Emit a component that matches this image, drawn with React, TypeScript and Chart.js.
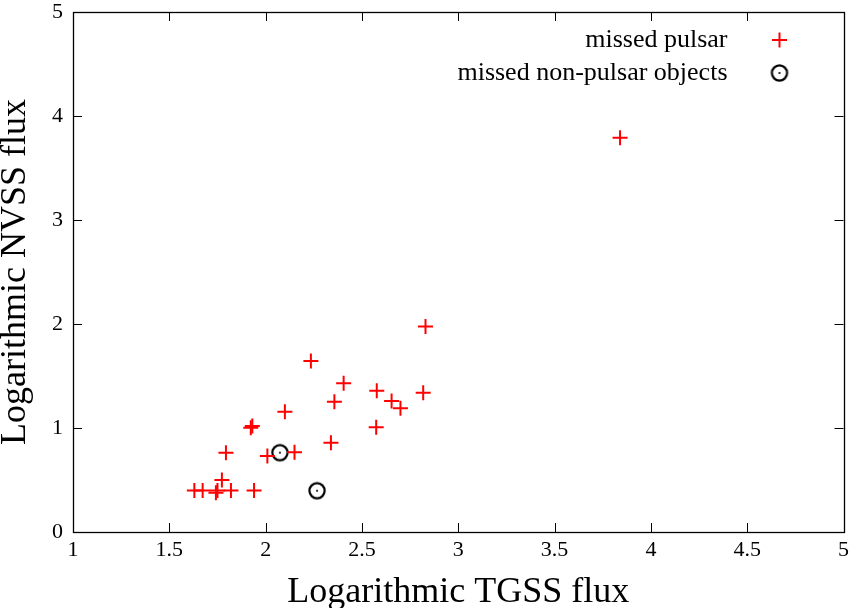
import React, { useEffect, useRef } from 'react';
import { Chart, registerables } from 'chart.js';

Chart.register(...registerables);

const pulsarX = [3.84, 2.83, 2.235, 2.405, 2.577, 2.818, 2.357, 2.654, 2.70, 2.10, 1.931, 1.923, 2.574, 2.339, 1.794, 2.009, 2.150, 1.773, 1.630, 1.673, 1.742, 1.75, 1.820, 1.940];
const pulsarY = [3.79, 1.977, 1.644, 1.43, 1.359, 1.34, 1.253, 1.26, 1.19, 1.157, 1.019, 1.003, 1.007, 0.859, 0.763, 0.731, 0.766, 0.50, 0.40, 0.40, 0.378, 0.40, 0.40, 0.40];
const otherX = [2.074, 2.267];
const otherY = [0.763, 0.397];
const xTicks = [1, 1.5, 2, 2.5, 3, 3.5, 4, 4.5, 5];
const yTicks = [0, 1, 2, 3, 4, 5];
const seriesLabels = ['missed pulsar', 'missed non-pulsar objects'];
const xTitle = 'Logarithmic TGSS flux';
const yTitle = 'Logarithmic NVSS flux';

const SERIF = "'Liberation Serif', 'Times New Roman', serif";

function makeCircleDot(): HTMLCanvasElement {
  const c = document.createElement('canvas');
  c.width = 20;
  c.height = 20;
  const g = c.getContext('2d')!;
  g.strokeStyle = '#000';
  g.lineWidth = 2.2;
  g.beginPath();
  g.arc(10, 10, 7.6, 0, Math.PI * 2);
  g.stroke();
  g.fillStyle = '#000';
  g.beginPath();
  g.arc(10, 10, 1.1, 0, Math.PI * 2);
  g.fill();
  return c;
}

export default function App() {
  const ref = useRef<HTMLCanvasElement | null>(null);

  useEffect(() => {
    if (!ref.current) return;
    const circleImg = makeCircleDot();

    const framePlugin = {
      id: 'frameTicks',
      afterDatasetsDraw(chart: any) {
        const { ctx, chartArea } = chart;
        const { left, right, top, bottom } = chartArea;
        const xs = chart.scales.x;
        const ys = chart.scales.y;
        const tl = 9;
        ctx.save();
        ctx.strokeStyle = '#000';
        ctx.lineWidth = 1;
        ctx.beginPath();
        xTicks.forEach((v) => {
          const px = Math.round(xs.getPixelForValue(v)) + 0.5;
          ctx.moveTo(px, bottom);
          ctx.lineTo(px, bottom - tl);
          ctx.moveTo(px, top);
          ctx.lineTo(px, top + tl);
        });
        yTicks.forEach((v) => {
          const py = Math.round(ys.getPixelForValue(v)) + 0.5;
          ctx.moveTo(left, py);
          ctx.lineTo(left + tl, py);
          ctx.moveTo(right, py);
          ctx.lineTo(right - tl, py);
        });
        ctx.stroke();
        ctx.lineWidth = 1.3;
        ctx.strokeRect(Math.round(left) + 0.5, Math.round(top) + 0.5, Math.round(right - left), Math.round(bottom - top));

        // legend
        ctx.font = `26px ${SERIF}`;
        ctx.fillStyle = '#000';
        ctx.textAlign = 'right';
        ctx.textBaseline = 'middle';
        const textRight = right - 116;
        const markX = right - 64;
        const rows = [top + 28, top + 61];
        ctx.fillText(seriesLabels[0], textRight, rows[0]);
        ctx.fillText(seriesLabels[1], textRight, rows[1]);
        ctx.strokeStyle = 'rgb(255,0,0)';
        ctx.lineWidth = 2;
        ctx.beginPath();
        ctx.moveTo(markX - 7.5, rows[0]);
        ctx.lineTo(markX + 7.5, rows[0]);
        ctx.moveTo(markX, rows[0] - 7.5);
        ctx.lineTo(markX, rows[0] + 7.5);
        ctx.stroke();
        ctx.drawImage(circleImg, markX - 10, rows[1] - 10);
        ctx.restore();
      },
    };

    const chart = new Chart(ref.current, {
      type: 'scatter',
      data: {
        datasets: [
          {
            label: seriesLabels[0],
            data: pulsarX.map((x, i) => ({ x, y: pulsarY[i] })),
            pointStyle: 'cross',
            pointRadius: 7.5,
            pointHoverRadius: 7.5,
            borderWidth: 2,
            borderColor: 'rgb(255,0,0)',
            backgroundColor: 'rgb(255,0,0)',
          },
          {
            label: seriesLabels[1],
            data: otherX.map((x, i) => ({ x, y: otherY[i] })),
            pointStyle: circleImg as any,
            pointRadius: 8,
            borderColor: '#000',
            backgroundColor: '#000',
          },
        ],
      },
      options: {
        responsive: false,
        animation: false,
        events: [],
        layout: { padding: { top: 12, right: 6, left: 0, bottom: 0 } },
        plugins: {
          legend: { display: false },
          tooltip: { enabled: false },
        },
        scales: {
          x: {
            type: 'linear',
            min: 1,
            max: 5,
            afterFit: (s: any) => {
              s.height = 76;
              s.paddingLeft = 0;
              s.paddingRight = 0;
              s.paddingTop = 0;
              s.paddingBottom = 0;
            },
            afterBuildTicks: (s: any) => {
              s.ticks = xTicks.map((v) => ({ value: v }));
            },
            grid: { display: false, drawTicks: false },
            border: { display: false },
            ticks: {
              color: '#000',
              font: { family: SERIF, size: 22 },
              padding: 5,
              maxRotation: 0,
              autoSkip: false,
              callback: (v: any) => String(v),
            },
            title: {
              display: true,
              text: xTitle,
              color: '#000',
              font: { family: SERIF, size: 36, lineHeight: 0.88 },
              padding: 0,
            },
          },
          y: {
            type: 'linear',
            min: 0,
            max: 5,
            afterFit: (s: any) => {
              s.width = 73;
              s.paddingLeft = 0;
              s.paddingRight = 0;
              s.paddingTop = 0;
              s.paddingBottom = 0;
            },
            afterBuildTicks: (s: any) => {
              s.ticks = yTicks.map((v) => ({ value: v }));
            },
            grid: { display: false, drawTicks: false },
            border: { display: false },
            ticks: {
              color: '#000',
              font: { family: SERIF, size: 22 },
              padding: 10,
              autoSkip: false,
              callback: (v: any) => String(v),
            },
            title: {
              display: true,
              text: yTitle,
              color: '#000',
              font: { family: SERIF, size: 36, lineHeight: 0.84 },
              padding: 0,
            },
          },
        },
      },
      plugins: [framePlugin],
    });
    return () => chart.destroy();
  }, []);

  return (
    <div style={{ position: 'absolute', left: 0, top: 0, width: 853, height: 608, background: '#fff' }}>
      <canvas ref={ref} width={853} height={608} style={{ display: 'block', width: 853, height: 608 }} />
    </div>
  );
}
